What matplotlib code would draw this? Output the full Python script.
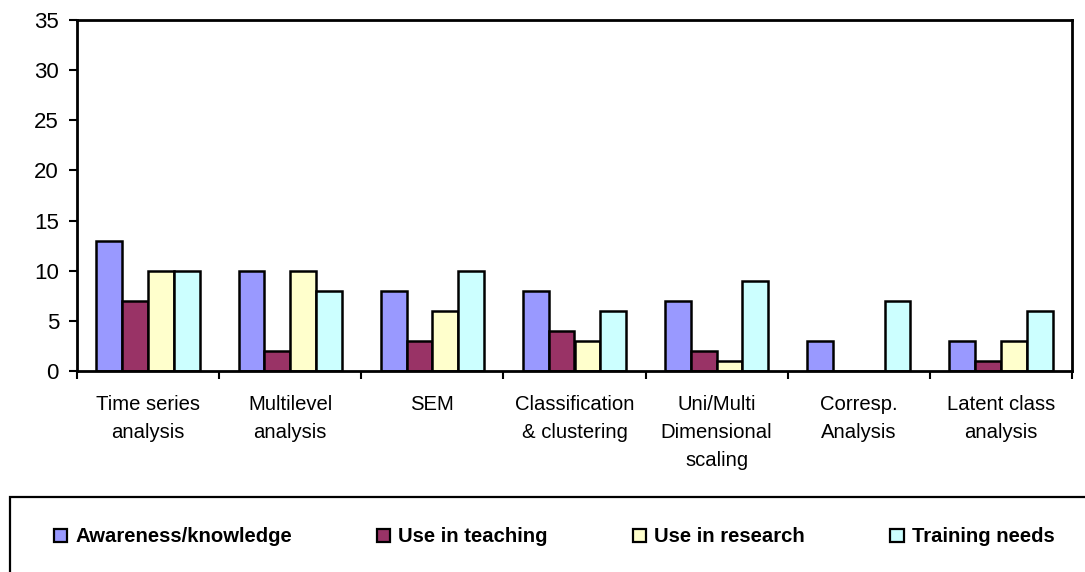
import matplotlib
matplotlib.use("Agg")
import matplotlib.pyplot as plt
import numpy as np
from matplotlib.patches import Rectangle, Patch

plt.rcParams['font.family'] = ['Liberation Sans', 'DejaVu Sans']

categories = ["Time series\nanalysis", "Multilevel\nanalysis", "SEM",
              "Classification\n& clustering", "Uni/Multi\nDimensional\nscaling",
              "Corresp.\nAnalysis", "Latent class\nanalysis"]
series_names = ["Awareness/knowledge", "Use in teaching", "Use in research", "Training needs"]
awareness = [13, 10, 8, 8, 7, 3, 3]
teaching = [7, 2, 3, 4, 2, 0, 1]
research = [10, 10, 6, 3, 1, 0, 3]
training = [10, 8, 10, 6, 9, 7, 6]
colors = ["#9999FF", "#993366", "#FFFFCC", "#CCFFFF"]
y_ticks = [0, 5, 10, 15, 20, 25, 30, 35]

W, H = 1085, 572
fig = plt.figure(figsize=(W / 100, H / 100), dpi=100)
ax = fig.add_axes([77 / W, (H - 371) / H, (1072 - 77) / W, (371 - 20) / H])

n = len(categories)
x = np.arange(n)
bw = 1 / 5.5
data = [awareness, teaching, research, training]
for i, (vals, c, name) in enumerate(zip(data, colors, series_names)):
    ax.bar(x + (i - 1.5) * bw, vals, width=bw, color=c, edgecolor='black',
           linewidth=1.8, label=name, zorder=2)

ax.set_xlim(-0.5, n - 0.5)
ax.set_ylim(0, 35)
ax.set_yticks(y_ticks)
ax.tick_params(axis='y', direction='out', length=6, width=1.5, pad=7, labelsize=16)
ax.set_xticks(x)
ax.set_xticklabels(categories, fontsize=14.6, linespacing=1.62)
ax.set_xticks(np.arange(n + 1) - 0.5, minor=True)
ax.tick_params(axis='x', which='major', length=0, pad=17)
ax.tick_params(axis='x', which='minor', direction='out', length=6, width=1.5)
for s in ax.spines.values():
    s.set_linewidth(2)

# legend box
fig.patches.append(Rectangle((10 / W, -0.05), 1.05, (H - 497) / H + 0.05,
                             transform=fig.transFigure, fill=False,
                             edgecolor='black', linewidth=1.6, clip_on=False))
handles = [Patch(facecolor=c, edgecolor='black', linewidth=1.6) for c in colors]
fig.legend(handles, series_names, loc='center left',
           bbox_to_anchor=(54 / W, (H - 537) / H), ncol=4, frameon=False,
           prop={'weight': 'bold', 'size': 14.6}, handlelength=0.65, handleheight=0.65,
           handletextpad=0.4, columnspacing=4.2, borderaxespad=0, borderpad=0)

fig.savefig("out.png", dpi=100)
